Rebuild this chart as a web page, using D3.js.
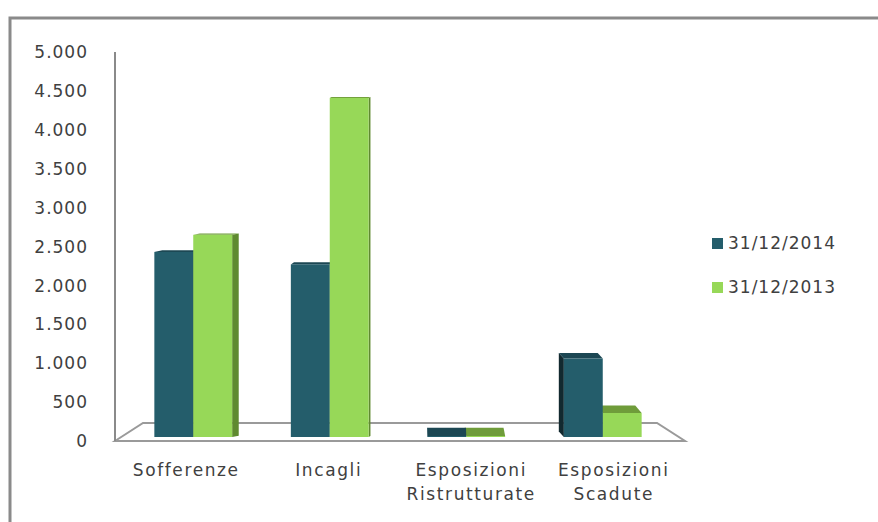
<!DOCTYPE html>
<html>
<head>
<meta charset="utf-8">
<script src="https://cdn.jsdelivr.net/npm/d3@7"></script>
<style>
  html, body { margin: 0; padding: 0; background: #fff; }
  svg { display: block; }
  text { font-family: "DejaVu Sans", sans-serif; fill: #404040; letter-spacing: 1px; }
</style>
</head>
<body>
<div id="chart"></div>
<script>
// Data
const categories = [["Sofferenze"], ["Incagli"], ["Esposizioni", "Ristrutturate"], ["Esposizioni", "Scadute"]];
const seriesNames = ["31/12/2014", "31/12/2013"];
const values2014 = [2430, 2270, 50, 1060];
const values2013 = [2650, 4410, 50, 360];
const yTicks = [0, 500, 1000, 1500, 2000, 2500, 3000, 3500, 4000, 4500, 5000];

const width = 878, height = 522;

// face colours per series: front, side, top
const palette = [
    { front: "#245d6b", side: "#12292f", top: "#1c4753" },
    { front: "#97d858", side: "#5f8a30", top: "#6f9c3a" }
];

const svg = d3.select("#chart").append("svg")
    .attr("width", width)
    .attr("height", height);

// outer frame (only left and top edges visible)
svg.append("path")
    .attr("d", `M10,${height} L10,18 L${width},18`)
    .attr("fill", "none")
    .attr("stroke", "#8a8a8a")
    .attr("stroke-width", 3);

const y = d3.scaleLinear().domain([0, 5000]).range([441, 52]);

// bars sit on the floor (back plane), labels follow the floor's front edge
const x0 = d3.scaleBand()
    .domain(d3.range(categories.length))
    .range([125, 671])
    .paddingInner(0.43)
    .paddingOuter(0.215);

const xLabel = d3.scaleBand()
    .domain(d3.range(categories.length))
    .range([115, 685]);

const x1 = d3.scaleBand()
    .domain(d3.range(seriesNames.length))
    .range([0, x0.bandwidth()]);

// floor in perspective
const floorFront = y(0), floorBack = y(0) - 18;
svg.append("path")
    .attr("d", `M115,${floorFront} L143,${floorBack} L657,${floorBack} L685,${floorFront} Z`)
    .attr("fill", "#fff")
    .attr("stroke", "#9a9a9a")
    .attr("stroke-width", 2);

// vertical axis line
svg.append("line")
    .attr("x1", 115).attr("x2", 115)
    .attr("y1", y(5000)).attr("y2", y(0))
    .attr("stroke", "#8a8a8a")
    .attr("stroke-width", 2);

// tick labels
svg.append("g")
    .selectAll("text")
    .data(yTicks)
    .join("text")
    .attr("x", 88)
    .attr("y", d => y(d))
    .attr("dy", "0.36em")
    .attr("text-anchor", "end")
    .style("font-size", "17px")
    .text(d => d3.format(",")(d).replace(/,/g, "."));

// bars, with pseudo 3D faces
const vanishX = 420, kx = 0.035, horizonY = 200, ky = 0.035;
const base = y(0) - 4;

const bars = [];
categories.forEach((c, i) => {
    [values2014, values2013].forEach((vals, s) => {
        const xl = x0(i) + x1(s);
        const xr = xl + x1.bandwidth();
        const mid = (xl + xr) / 2;
        bars.push({ i, s, v: vals[i], xl, xr, dist: Math.abs(mid - vanishX) });
    });
});

// far bars first so nearer faces cover hidden sides
bars.sort((a, b) => b.dist - a.dist);

const gBars = svg.append("g");
bars.forEach(b => {
    const yt = Math.min(y(b.v), base - 1);
    const edge = (b.xl + b.xr) / 2 < vanishX ? b.xr : b.xl;
    const dx = (vanishX - edge) * kx;
    const dy = -Math.max(1, (yt - horizonY) * ky);
    const col = palette[b.s];
    const g = gBars.append("g");

    // side face
    g.append("path")
        .attr("d", `M${edge},${yt} L${edge + dx},${yt + dy} L${edge + dx},${base + dy} L${edge},${base} Z`)
        .attr("fill", col.side);
    // top face
    g.append("path")
        .attr("d", `M${b.xl},${yt} L${b.xr},${yt} L${b.xr + dx},${yt + dy} L${b.xl + dx},${yt + dy} Z`)
        .attr("fill", col.top);
    // front face
    g.append("rect")
        .attr("x", b.xl)
        .attr("y", yt)
        .attr("width", b.xr - b.xl)
        .attr("height", base - yt)
        .attr("fill", col.front);
});

// category labels
const labels = svg.append("g")
    .selectAll("text")
    .data(categories)
    .join("text")
    .attr("x", (d, i) => xLabel(i) + xLabel.bandwidth() / 2)
    .attr("y", 476)
    .attr("text-anchor", "middle")
    .style("font-size", "17px")
    .style("letter-spacing", "1.6px");

labels.selectAll("tspan")
    .data(d => d)
    .join("tspan")
    .attr("x", function () { return d3.select(this.parentNode).attr("x"); })
    .attr("dy", (d, j) => j === 0 ? 0 : 24)
    .text(d => d);

// legend
const legend = svg.append("g")
    .selectAll("g")
    .data(seriesNames)
    .join("g")
    .attr("transform", (d, i) => `translate(712, ${243 + i * 44})`);

legend.append("rect")
    .attr("x", 0).attr("y", -5)
    .attr("width", 11).attr("height", 11)
    .attr("fill", (d, i) => palette[i].front);

legend.append("text")
    .attr("x", 16)
    .attr("y", 0)
    .attr("dy", "0.36em")
    .style("font-size", "17px")
    .text(d => d);
</script>
</body>
</html>
